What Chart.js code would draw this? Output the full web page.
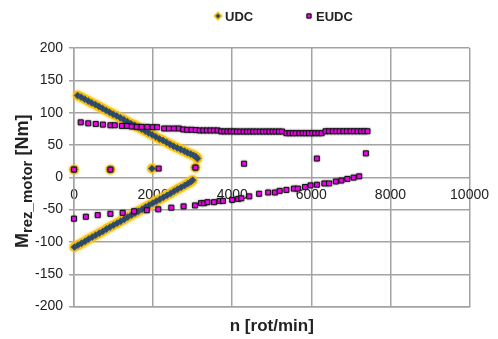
<!DOCTYPE html>
<html>
<head>
<meta charset="utf-8">
<title>Mrez_motor vs n</title>
<script src="https://cdn.jsdelivr.net/npm/chart.js@4.4.1/dist/chart.umd.min.js"></script>
<style>
  html, body { margin: 0; padding: 0; background: #ffffff; }
  canvas { display: block; }
</style>
</head>
<body>
<canvas id="chart" width="498" height="339"></canvas>
<script>
// ---- data: motor speed [rot/min] and resulting torque [Nm] per driving cycle ----
const udcSpeed = [
  0, 920, 1970, 3070,
  90, 180, 270, 360, 450, 540, 630, 720, 810, 900, 990, 1080, 1170, 1260, 1350, 1440,
  1530, 1620, 1710, 1800, 1890, 1980, 2070, 2160, 2250, 2340, 2430, 2520, 2610, 2700,
  2790, 2870, 2950, 3020, 3080, 3120,
  10, 100, 190, 280, 370, 460, 550, 640, 730, 820, 910, 1000, 1090, 1180, 1270, 1360,
  1450, 1540, 1630, 1720, 1810, 1900, 1990, 2080, 2170, 2260, 2350, 2440, 2530, 2620,
  2710, 2800, 2880, 2950, 3000
];
const udcTorque = [
  12, 12, 13.5, 15,
  126.5, 124, 121, 118, 115, 112.5, 109.5, 106.5, 103.5, 100.5, 97.5, 95, 92, 89, 86, 83,
  80.5, 77.5, 74.5, 71.5, 68.5, 65.5, 62.5, 59.5, 57, 54, 51, 48, 45.5, 43,
  40.5, 38, 36, 34, 32, 29,
  -108, -105, -102, -99, -95.5, -92.5, -89.5, -86.5, -83.5, -80, -77, -74, -71, -68, -65, -61.5,
  -58.5, -55.5, -52.5, -49.5, -46, -43, -40, -37, -34, -31, -28, -25, -21.5, -18.5,
  -15.5, -12.5, -9.5, -7, -4.5
];

const eudcSpeed = [
  0, 920, 2140, 3070,
  4300, 6140, 7380,
  170, 360, 550, 730, 920, 1030, 1210, 1340, 1460, 1590, 1710, 1850, 1990, 2100,
  2280, 2400, 2530, 2650, 2760, 2860, 2970, 3080, 3180, 3270, 3360, 3450, 3540, 3630,
  3720, 3800, 3880, 3960, 4040, 4120, 4200, 4290, 4370, 4450, 4530, 4610, 4700, 4780,
  4860, 4940, 5020, 5100, 5180, 5260,
  5370, 5450, 5530, 5610, 5700, 5780, 5860, 5940, 6020, 6100, 6180, 6260,
  6360, 6450, 6540, 6630, 6720, 6810, 6900, 6990, 7080, 7170, 7260, 7340, 7420,
  0, 300, 600, 920, 1230, 1520, 1840, 2130, 2460, 2770, 3060, 3210, 3290, 3375, 3540,
  3680, 3765, 4000, 4150, 4230, 4430, 4680, 4910, 5080, 5200, 5370, 5560, 5660, 5840,
  5980, 6140, 6330, 6450, 6620, 6760, 6910, 7070, 7210
];
const eudcTorque = [
  12, 12, 13.5, 15,
  21, 29, 37,
  85, 83.5, 82.5, 81.5, 80.5, 80.5, 79.5, 79.5, 78.5, 78, 78, 78, 77.5, 77.5,
  75.5, 75.5, 75.5, 75.5, 74, 73.5, 73.5, 73, 72.5, 72.5, 72.5, 72.5, 72.5, 72.5,
  71, 71, 71, 71, 71, 70.8, 70.8, 70.8, 70.8, 70.8, 70.8, 70.8, 70.8, 70.8,
  70.8, 70.8, 70.8, 70.8, 70.8, 70.8,
  68.2, 68.2, 68.2, 68.2, 68.2, 68.2, 68.2, 68.2, 68.2, 68.2, 68.2, 68.2,
  71.2, 71.2, 71.2, 71.2, 71.2, 71.2, 71.2, 71.2, 71.2, 71.2, 71.2, 71.2, 71.2,
  -64, -61, -58.5, -56.5, -55, -52.5, -51, -49.5, -47, -45, -43.5, -40, -40, -38.5, -38.5,
  -36.5, -36.5, -35, -33.5, -32.5, -29.5, -25.5, -23.5, -23.5, -21, -19.5, -17.5, -17.5, -15,
  -12.5, -11.5, -9.5, -9.5, -6.5, -5, -2.5, -0.5, 1.5
];

const seriesNames = ['UDC', 'EUDC'];
const speedTicks = [0, 2000, 4000, 6000, 8000, 10000];
const torqueTicks = [-200, -150, -100, -50, 0, 50, 100, 150, 200];

// ---- styling ----
const FONT = '"Liberation Sans", Arial, Helvetica, sans-serif';
const GRID = '#a3a3a3';
const TEXT = '#222222';
const UDC_STYLE = { pointStyle: 'rectRot', radius: 3.4, borderWidth: 0.8, fill: '#2c4866', edge: '#3a5877' };
const UDC_HALO = { pointStyle: 'circle', radius: 4.9, fill: 'rgba(246,188,10,0.92)', glow: 'rgba(252,205,30,1)' };
const EUDC_STYLE = { pointStyle: 'rect', radius: 3.5, borderWidth: 1, fill: '#ff00ff', edge: '#111111', glow: 'rgba(40,40,40,0.55)' };

Chart.defaults.font.family = FONT;
Chart.defaults.color = TEXT;

const toPoints = (xs, ys) => xs.map((x, i) => ({ x: x, y: ys[i] }));

// soft halo behind a series' markers
const markerGlow = {
  id: 'markerGlow',
  beforeDatasetDraw(chart, args) {
    const ds = chart.data.datasets[args.index];
    const ctx = chart.ctx;
    ctx.save();
    if (ds.glowColor) {
      ctx.shadowColor = ds.glowColor;
      ctx.shadowBlur = ds.glowBlur;
    }
  },
  afterDatasetDraw(chart) {
    chart.ctx.restore();
  }
};

function drawMarker(ctx, style, pointStyle, radius, x, y, glow, blur) {
  ctx.save();
  if (glow) { ctx.shadowColor = glow; ctx.shadowBlur = blur; }
  ctx.fillStyle = style.fill;
  ctx.strokeStyle = style.edge || style.fill;
  ctx.lineWidth = style.borderWidth || 0;
  Chart.helpers.drawPoint(ctx, {
    pointStyle: pointStyle, radius: radius, rotation: 0, borderWidth: style.borderWidth || 0
  }, x, y);
  ctx.restore();
}

// legend row above the plot and the y-axis title with its subscript
const annotations = {
  id: 'annotations',
  afterDraw(chart) {
    const ctx = chart.ctx;
    const area = chart.chartArea;

    // legend
    const legendY = 16;
    const markerX = [218, 309];
    drawMarker(ctx, UDC_HALO, 'rectRot', 4.4, markerX[0], legendY, UDC_HALO.glow, 1.5);
    drawMarker(ctx, UDC_STYLE, UDC_STYLE.pointStyle, 2.2, markerX[0], legendY);
    drawMarker(ctx, EUDC_STYLE, EUDC_STYLE.pointStyle, 3, markerX[1], legendY, EUDC_STYLE.glow, 1.5);
    ctx.save();
    ctx.font = 'bold 13px ' + FONT;
    ctx.textBaseline = 'middle';
    ctx.fillStyle = TEXT;
    seriesNames.forEach((name, i) => ctx.fillText(name, markerX[i] + 7, legendY + 1));
    ctx.restore();

    // y-axis title: M with subscript rez_motor, unit in brackets
    ctx.save();
    ctx.translate(22, (area.top + area.bottom) / 2 + 4);
    ctx.rotate(-Math.PI / 2);
    ctx.fillStyle = TEXT;
    ctx.textBaseline = 'alphabetic';
    const big = 'bold 18px ' + FONT;
    const small = 'bold 15px ' + FONT;
    ctx.font = big;
    const wM = ctx.measureText('M').width;
    const wUnit = ctx.measureText(' [Nm]').width;
    ctx.font = small;
    const wSub = ctx.measureText('rez_motor').width;
    const x0 = -(wM + wSub + wUnit) / 2;
    ctx.font = big;
    ctx.fillText('M', x0, 6);
    ctx.font = small;
    ctx.fillText('rez_motor', x0 + wM, 10);
    ctx.font = big;
    ctx.fillText(' [Nm]', x0 + wM + wSub, 6);
    ctx.restore();
  }
};

const udcPoints = toPoints(udcSpeed, udcTorque);

new Chart(document.getElementById('chart'), {
  type: 'scatter',
  data: {
    datasets: [
      {
        label: seriesNames[0],
        data: udcPoints,
        order: 1,
        clip: false,
        pointStyle: UDC_STYLE.pointStyle,
        pointRadius: UDC_STYLE.radius,
        pointHoverRadius: UDC_STYLE.radius,
        pointBorderWidth: UDC_STYLE.borderWidth,
        pointBackgroundColor: UDC_STYLE.fill,
        pointBorderColor: UDC_STYLE.edge,
        xAxisID: 'x',
        yAxisID: 'y'
      },
      {
        label: seriesNames[1],
        data: toPoints(eudcSpeed, eudcTorque),
        order: 0,
        clip: false,
        pointStyle: EUDC_STYLE.pointStyle,
        pointRadius: EUDC_STYLE.radius,
        pointHoverRadius: EUDC_STYLE.radius,
        pointBorderWidth: EUDC_STYLE.borderWidth,
        pointBackgroundColor: EUDC_STYLE.fill,
        pointBorderColor: EUDC_STYLE.edge,
        glowColor: EUDC_STYLE.glow,
        glowBlur: 2,
        xAxisID: 'x',
        yAxisID: 'y'
      },
      {
        // golden halo under the UDC markers
        label: seriesNames[0] + ' halo',
        data: udcPoints,
        order: 2,
        clip: false,
        pointStyle: UDC_HALO.pointStyle,
        pointRadius: UDC_HALO.radius,
        pointHoverRadius: UDC_HALO.radius,
        pointBorderWidth: 0,
        pointBackgroundColor: UDC_HALO.fill,
        pointBorderColor: UDC_HALO.fill,
        glowColor: UDC_HALO.glow,
        glowBlur: 3,
        xAxisID: 'x',
        yAxisID: 'y'
      }
    ]
  },
  options: {
    responsive: false,
    animation: false,
    devicePixelRatio: 1,
    layout: { padding: { left: 29, right: 20, top: 48, bottom: 0 } },
    plugins: {
      legend: { display: false },
      tooltip: { enabled: false }
    },
    scales: {
      x: {
        type: 'linear',
        position: 'bottom',
        min: speedTicks[0],
        max: speedTicks[speedTicks.length - 1],
        afterBuildTicks: s => { s.ticks = speedTicks.map(v => ({ value: v })); },
        ticks: { display: false },
        grid: { color: GRID, lineWidth: 1.5, drawTicks: false },
        border: { color: GRID, width: 1.5 },
        title: {
          display: true,
          text: 'n [rot/min]',
          color: TEXT,
          font: { size: 17, weight: 'bold' },
          padding: { top: 10, bottom: 2 }
        }
      },
      xZero: {
        type: 'linear',
        axis: 'x',
        position: { y: 0 },
        min: speedTicks[0],
        max: speedTicks[speedTicks.length - 1],
        afterBuildTicks: s => { s.ticks = speedTicks.map(v => ({ value: v })); },
        ticks: { color: TEXT, font: { size: 14 }, padding: 9, callback: v => String(v) },
        grid: { display: false, drawTicks: false },
        border: { display: false }
      },
      y: {
        type: 'linear',
        min: torqueTicks[0],
        max: torqueTicks[torqueTicks.length - 1],
        afterBuildTicks: s => { s.ticks = torqueTicks.map(v => ({ value: v })); },
        ticks: { color: TEXT, font: { size: 14 }, padding: 6, callback: v => String(v) },
        grid: { color: GRID, lineWidth: 1.5, tickLength: 5 },
        border: { color: GRID, width: 1.5 }
      }
    }
  },
  plugins: [markerGlow, annotations]
});
</script>
</body>
</html>
